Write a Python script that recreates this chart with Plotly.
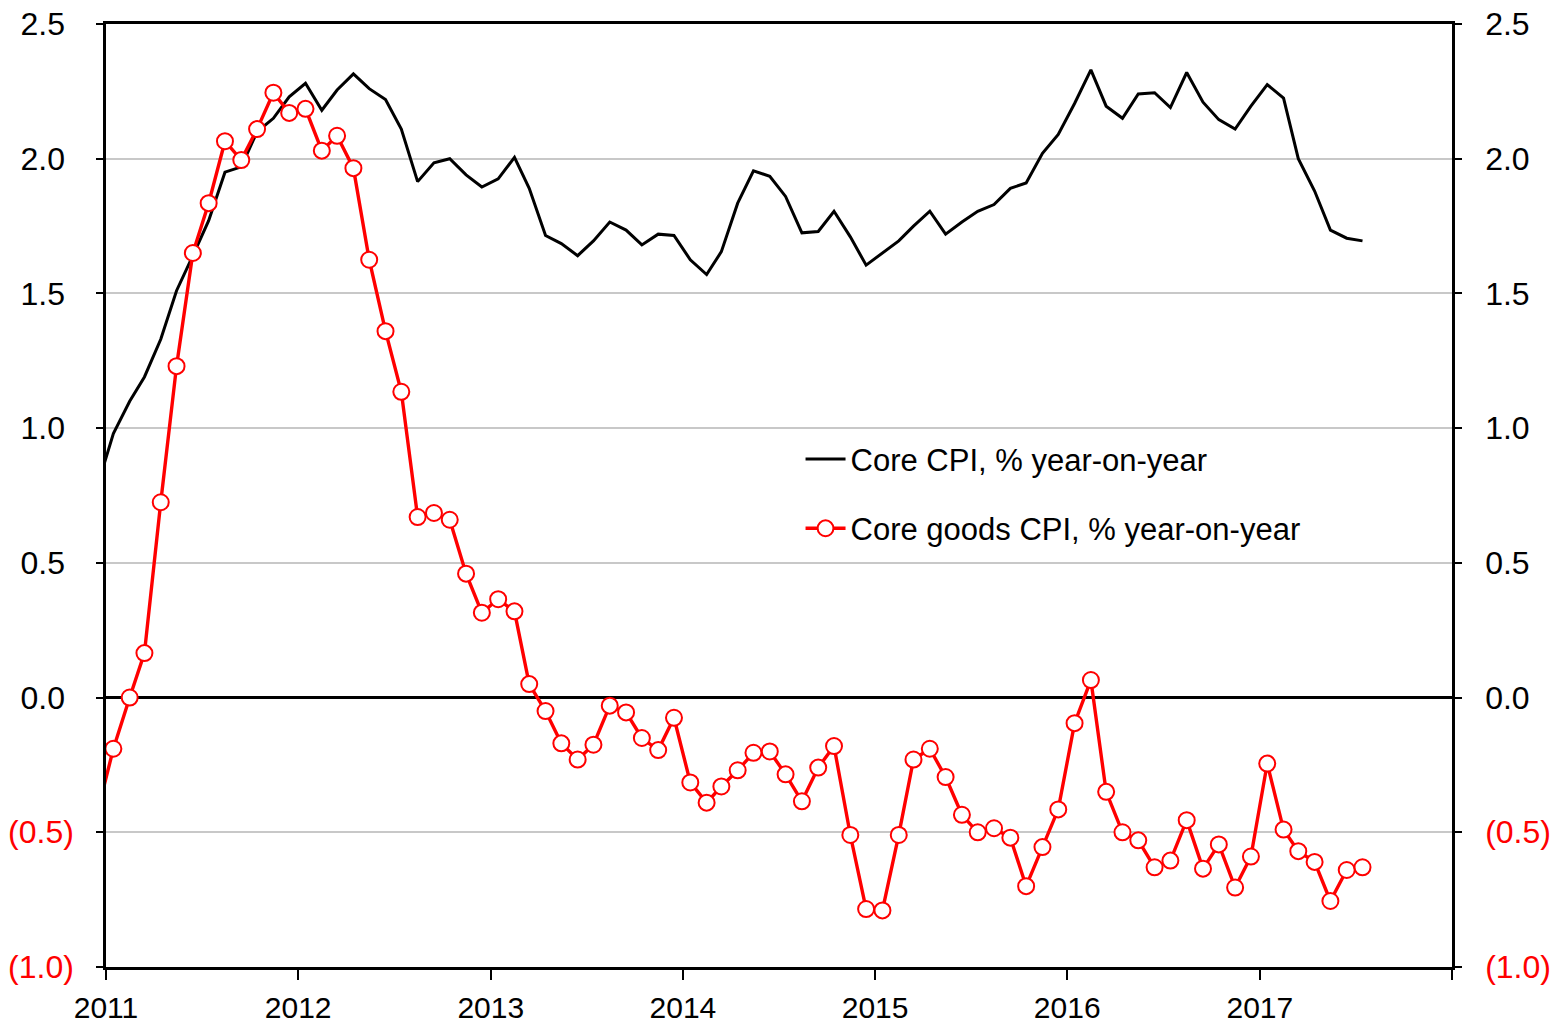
import pandas as pd
import plotly.graph_objects as go

# Monthly observations (mid-month), Dec 2010 .. Jul 2017
months = pd.date_range("2010-12-01", "2017-07-01", freq="MS") + pd.Timedelta(days=14)

core_cpi = [
    0.78,
    0.98, 1.10, 1.19, 1.33, 1.51, 1.64, 1.77, 1.95, 1.97, 2.10, 2.15, 2.23,
    2.28, 2.18, 2.255, 2.315, 2.26, 2.22, 2.11, 1.915, 1.985, 2.00, 1.94, 1.895,
    1.925, 2.005, 1.89, 1.715, 1.685, 1.64, 1.695, 1.765, 1.735, 1.68, 1.72, 1.715,
    1.625, 1.57, 1.655, 1.835, 1.955, 1.935, 1.86, 1.725, 1.73, 1.805, 1.71, 1.605,
    1.65, 1.695, 1.75, 1.805, 1.72, 1.765, 1.805, 1.83, 1.89, 1.91, 2.02, 2.09,
    2.205, 2.33, 2.195, 2.15, 2.24, 2.245, 2.19, 2.32, 2.21, 2.145, 2.11, 2.195,
    2.275, 2.225, 2.00, 1.88, 1.735, 1.705, 1.695,
]

core_goods_cpi = [
    -0.43,
    -0.19, 0.00, 0.165, 0.725, 1.23, 1.65, 1.835, 2.065, 1.995, 2.11, 2.245, 2.17,
    2.185, 2.03, 2.085, 1.965, 1.625, 1.36, 1.135, 0.67, 0.685, 0.66, 0.46, 0.315,
    0.365, 0.32, 0.05, -0.05, -0.17, -0.23, -0.175, -0.03, -0.055, -0.15, -0.195, -0.075,
    -0.315, -0.39, -0.33, -0.27, -0.205, -0.20, -0.285, -0.385, -0.26, -0.18, -0.51, -0.785,
    -0.79, -0.51, -0.23, -0.19, -0.295, -0.435, -0.50, -0.485, -0.52, -0.70, -0.555, -0.415,
    -0.095, 0.065, -0.35, -0.50, -0.53, -0.63, -0.605, -0.455, -0.635, -0.545, -0.705, -0.59,
    -0.245, -0.49, -0.57, -0.61, -0.755, -0.64, -0.63,
]

year_ticks = [f"{y}-01-01" for y in range(2011, 2019)]
year_labels = [str(y) for y in range(2011, 2018)] + [""]

y_ticks = [-1.0, -0.5, 0.0, 0.5, 1.0, 1.5, 2.0, 2.5]
y_labels = ["(1.0)", "(0.5)", "0.0", "0.5", "1.0", "1.5", "2.0", "2.5"]

RED = "#ff0000"
FONT = "Liberation Sans Narrow, Arial Narrow, Liberation Sans, Arial, sans-serif"


def fmt(label, pad):
    if label.startswith("("):
        return f"<span style='color:{RED}'>{label}</span>"
    return label + ("\u00a0" if pad else "")


left_text = [fmt(t, True) for t in y_labels]
right_text = [fmt(t, False) for t in y_labels]

marker_sizes = [0] + [16] * (len(core_goods_cpi) - 1)

fig = go.Figure()
fig.add_trace(go.Scatter(
    x=months, y=core_cpi, mode="lines", name="Core CPI, % year-on-year",
    line=dict(color="black", width=3), legendgroup="a", yaxis="y",
))
fig.add_trace(go.Scatter(
    x=months, y=core_goods_cpi, mode="lines+markers",
    name="Core goods CPI, % year-on-year",
    line=dict(color=RED, width=3.4),
    marker=dict(symbol="circle", size=marker_sizes, color="white", opacity=1,
                line=dict(color=RED, width=2)),
    legendgroup="b", yaxis="y2",
))

fig.update_layout(
    width=1553, height=1031, autosize=False,
    margin=dict(l=106, r=101, t=24, b=64, autoexpand=False),
    paper_bgcolor="white", plot_bgcolor="white",
    font=dict(family=FONT, size=32, color="black"),
    showlegend=True,
    legend=dict(x=0.516, y=0.567, xanchor="left", yanchor="top",
                bgcolor="rgba(0,0,0,0)", font=dict(size=31, family=FONT),
                tracegroupgap=26, itemwidth=40),
    xaxis=dict(
        type="date", range=["2011-01-01", "2018-01-01"], automargin=False,
        tickmode="array", tickvals=year_ticks, ticktext=year_labels,
        ticks="outside", ticklen=10, tickwidth=2, tickcolor="black",
        showline=True, linecolor="black", linewidth=2.5, mirror=True,
        showgrid=False, zeroline=False,
        tickfont=dict(size=30, family=FONT), ticklabelstandoff=2,
    ),
    yaxis=dict(
        range=[-1.0, 2.5], tickmode="array", tickvals=y_ticks, ticktext=left_text,
        automargin=False,
        ticks="outside", ticklen=7, tickwidth=2, tickcolor="black",
        showline=True, linecolor="black", linewidth=2.5,
        showgrid=True, gridcolor="#c8c8c8", gridwidth=1.5,
        zeroline=True, zerolinecolor="black", zerolinewidth=2.5,
        tickfont=dict(size=32, family=FONT), ticklabelstandoff=16,
    ),
    yaxis2=dict(
        range=[-1.0, 2.5], overlaying="y", side="right", automargin=False,
        tickmode="array", tickvals=y_ticks, ticktext=right_text,
        ticks="outside", ticklen=7, tickwidth=2, tickcolor="black",
        showline=True, linecolor="black", linewidth=2.5,
        showgrid=False, zeroline=False,
        tickfont=dict(size=32, family=FONT), ticklabelstandoff=17,
    ),
)

fig.write_html(
    "out.html",
    config={"displayModeBar": False},
    post_script="document.body.style.margin='0';document.body.style.overflow='hidden';",
)
